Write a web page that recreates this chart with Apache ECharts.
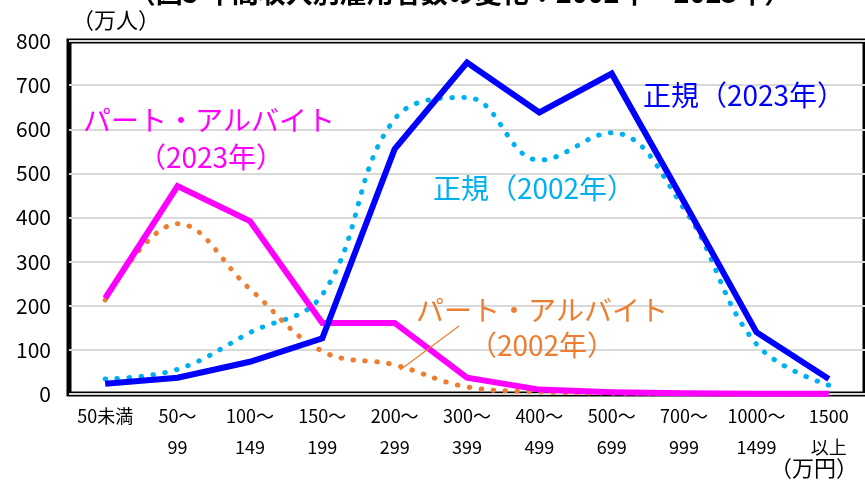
<!DOCTYPE html>
<html>
<head>
<meta charset="utf-8">
<script src="https://cdn.jsdelivr.net/npm/echarts@6/dist/echarts.min.js"></script>
<style>
  html, body { margin: 0; padding: 0; background: #fff; }
  #chart { width: 865px; height: 488px; }
</style>
</head>
<body>
<div id="chart"></div>
<script>
// 年収階級（万円）
const categories = ['50未満', '50～\n99', '100～\n149', '150～\n199', '200～\n299',
  '300～\n399', '400～\n499', '500～\n699', '700～\n999', '1000～\n1499', '1500\n以上'];

// 雇用者数（万人）
const seiki2023 = [23, 37, 73, 126, 555, 751, 638, 726, 435, 140, 34];
const seiki2002 = [34, 56, 139, 225, 623, 672, 530, 592, 420, 113, 20];
const part2023  = [217, 471, 392, 161, 161, 37, 10, 4, 1.5, 0.8, 0.5];
const part2002  = [213, 386, 238, 97, 66, 16, 5, 2, 1, 0.5, 0.3];

const yTicks = { min: 0, max: 800, interval: 100 };

const FONT = '"Noto Sans CJK JP", "Noto Sans", sans-serif';

const chart = echarts.init(document.getElementById('chart'), null, { renderer: 'canvas' });

function dotted(name, data, color) {
  return {
    name, type: 'line', data, smooth: 0.4, symbol: 'none', z: 2,
    lineStyle: { color, width: 5, type: [0.5, 11.5], cap: 'round' }
  };
}
function solid(name, data, color) {
  return {
    name, type: 'line', data, symbol: 'none', z: 3,
    lineStyle: { color, width: 6, join: 'miter' }
  };
}

// centred annotation text
function label(text, x, y, color, size) {
  return {
    type: 'text', x, y, z: 10,
    style: { text, fill: color, font: size + 'px ' + FONT, textAlign: 'center', textVerticalAlign: 'middle' }
  };
}

chart.setOption({
  animation: false,
  textStyle: { fontFamily: FONT },
  grid: { left: 69, right: -7, top: 41, bottom: 94, show: true, borderColor: '#000', borderWidth: 5, containLabel: false },
  xAxis: {
    type: 'category', data: categories, boundaryGap: true,
    axisLine: { show: false }, axisTick: { show: false },
    axisLabel: { color: '#000', fontSize: 18, lineHeight: 31, margin: 7, interval: 0, fontFamily: FONT }
  },
  yAxis: {
    type: 'value', min: yTicks.min, max: yTicks.max, interval: yTicks.interval,
    axisLine: { show: false }, axisTick: { show: false },
    axisLabel: { color: '#000', fontSize: 21, margin: 18, fontFamily: FONT },
    splitLine: { lineStyle: { color: '#D9D9D9', width: 2 } }
  },
  series: [
    dotted('正規（2002年）', seiki2002, '#00B0F0'),
    dotted('パート・アルバイト（2002年）', part2002, '#ED7D31'),
    solid('パート・アルバイト（2023年）', part2023, '#FF00FF'),
    solid('正規（2023年）', seiki2023, '#0000FF')
  ],
  graphic: [
    {
      type: 'text', x: 460, y: -21, z: 10,
      style: { text: '（図5 年間収入別雇用者数の変化：2002年→2023年）', fill: '#000',
        font: 'bold 27px ' + FONT, textAlign: 'center' }
    },
    {
      type: 'text', x: 72, y: 9, z: 10,
      style: { text: '（万人）', fill: '#000', font: '22px ' + FONT }
    },
    {
      type: 'text', x: 770, y: 457, z: 10,
      style: { text: '（万円）', fill: '#000', font: '22px ' + FONT }
    },
    label('パート・アルバイト', 209, 120, '#FF00FF', 28),
    label('（2023年）', 211, 157, '#FF00FF', 28),
    label('正規（2023年）', 744, 95, '#0000FF', 28),
    label('正規（2002年）', 534, 188, '#00B0F0', 28),
    label('パート・アルバイト', 542, 310, '#ED7D31', 28),
    label('（2002年）', 542, 345, '#ED7D31', 28),
    {
      type: 'line', z: 10,
      shape: { x1: 459, y1: 326, x2: 400, y2: 370 },
      style: { stroke: '#ED7D31', lineWidth: 1.2 }
    }
  ]
});
</script>
</body>
</html>
